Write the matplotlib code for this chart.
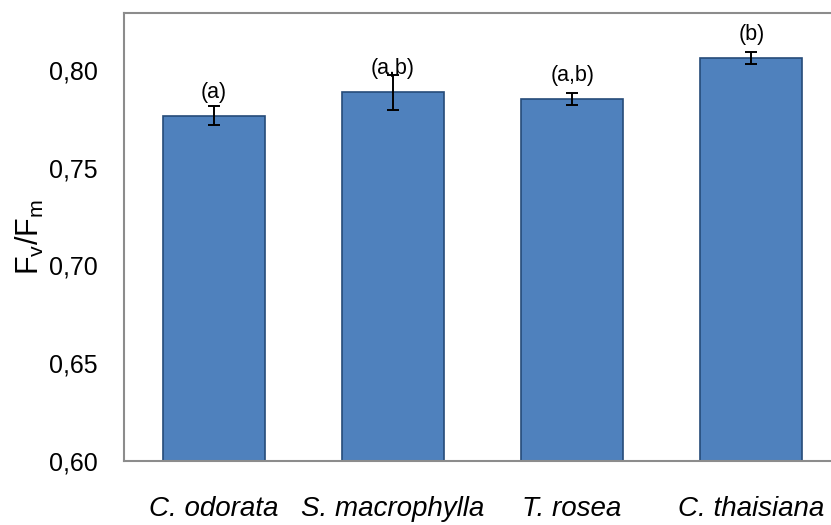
import matplotlib
matplotlib.use("Agg")
import matplotlib.pyplot as plt

plt.rcParams['font.family'] = ['Liberation Sans', 'DejaVu Sans']

# Fv/Fm medio por especie
especies = ["C. odorata", "S. macrophylla", "T. rosea", "C. thaisiana"]
fvfm = [0.7765, 0.7885, 0.7852, 0.806]
error = [0.005, 0.009, 0.003, 0.003]
letras = ["(a)", "(a,b)", "(a,b)", "(b)"]

fig = plt.figure(figsize=(8.31, 5.25), dpi=100)
ax = fig.add_axes([124/831, 64/525, 717/831, 448/525])

x = range(len(especies))
ax.bar(x, fvfm, width=0.57, bottom=0, color="#4F81BD", edgecolor="#264B79", linewidth=1.2,
       yerr=error, capsize=4.3, error_kw=dict(ecolor="black", elinewidth=1.4, capthick=1.4))

for i, (v, l) in enumerate(zip(fvfm, letras)):
    ax.annotate(l, (i, v), xytext=(0, 17), textcoords="offset points",
                ha="center", va="center", fontsize=15.5)

ax.set_xlim(-0.5, 3.5)
ax.set_ylim(0.60, 0.829)
ax.set_yticks([0.60, 0.65, 0.70, 0.75, 0.80])
ax.set_yticklabels(["0,60", "0,65", "0,70", "0,75", "0,80"], fontsize=18)
ax.set_xticks(list(x))
ax.set_xticklabels(especies, fontsize=20, style="italic")
ax.tick_params(axis="both", length=0)
ax.tick_params(axis="y", pad=19)
ax.tick_params(axis="x", pad=25)
ax.set_ylabel(r"$\mathregular{F_v/F_m}$", fontsize=22, labelpad=2)

for s in ["left", "bottom", "top", "right"]:
    ax.spines[s].set_color("#8C8C8C")
    ax.spines[s].set_linewidth(1.5)

fig.savefig("out.png", dpi=100)
